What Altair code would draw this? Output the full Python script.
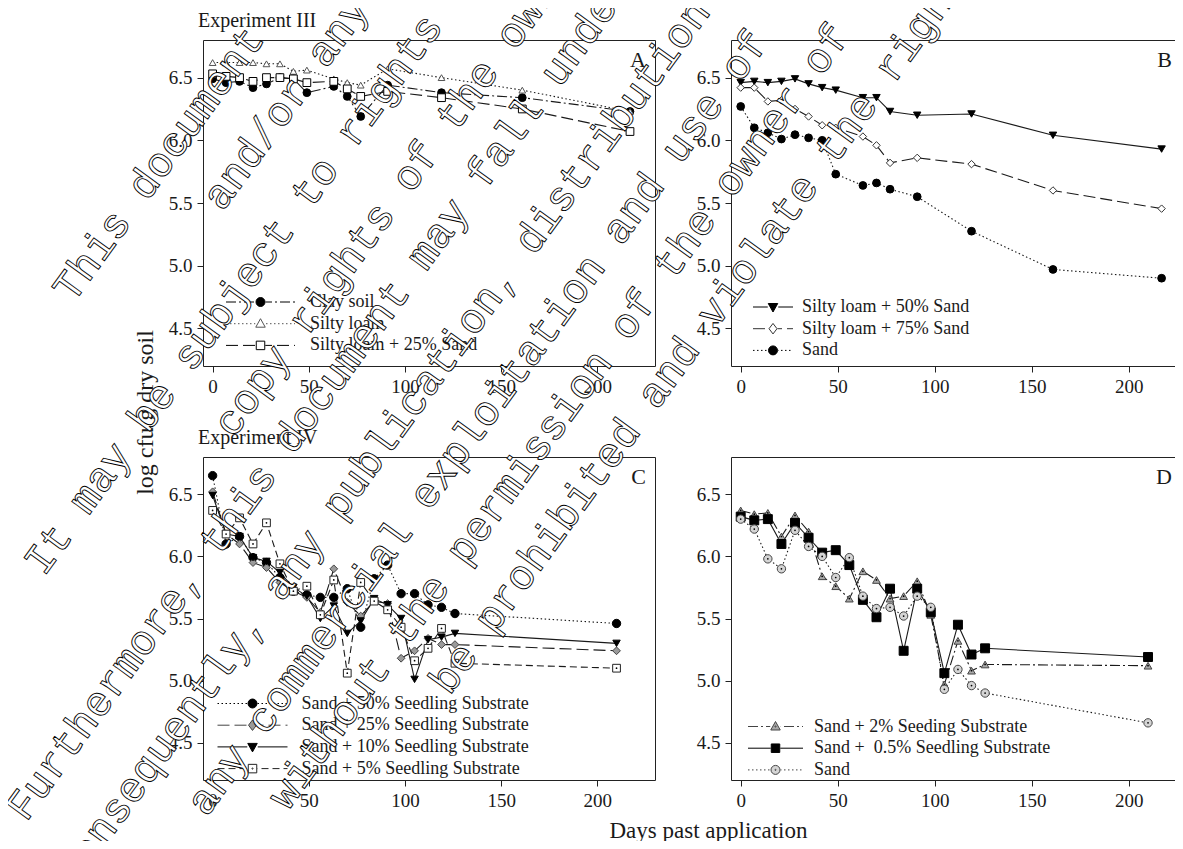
import altair as alt
import pandas as pd

FONT = "Liberation Serif"
MONO = "Liberation Mono"

# ------------------------------------------------------------------ data
DAYS_AB = [0, 7, 14, 21, 28, 35, 42, 49, 63, 70, 77, 91, 119, 161, 217]
CLAY_SOIL = [6.49, 6.46, 6.47, 6.42, 6.45, 6.50, 6.49, 6.38, 6.43, 6.35, 6.19, 6.44, 6.38, 6.34, 6.23]
SILTY_LOAM = [6.62, 6.62, 6.62, 6.62, 6.61, 6.61, 6.55, 6.56, 6.49, 6.46, 6.44, 6.57, 6.50, 6.40, 6.23]
SILTY_LOAM_25 = [6.53, 6.51, 6.50, 6.47, 6.50, 6.50, 6.49, 6.46, 6.47, 6.41, 6.35, 6.39, 6.34, 6.25, 6.07]

SILTY_LOAM_50 = [6.46, 6.47, 6.46, 6.47, 6.49, 6.45, 6.42, 6.40, 6.34, 6.34, 6.23, 6.20, 6.21, 6.04, 5.93]
SILTY_LOAM_75 = [6.42, 6.42, 6.31, 6.32, 6.25, 6.19, 6.12, 6.10, 6.03, 5.96, 5.82, 5.86, 5.81, 5.60, 5.455]
SAND_B = [6.27, 6.10, 6.06, 6.01, 6.045, 6.02, 6.00, 5.73, 5.64, 5.66, 5.61, 5.55, 5.275, 4.97, 4.90]

DAYS_CD = [0, 7, 14, 21, 28, 35, 42, 49, 56, 63, 70, 77, 84, 91, 98, 105, 112, 119, 126, 210]
SUB_50 = [6.65, 6.10, 6.16, 5.99, 5.95, 5.83, 5.72, 5.69, 5.67, 5.67, 5.74, 5.43, 5.82, 5.93, 5.70, 5.70, 5.61, 5.59, 5.54, 5.46]
SUB_25 = [6.52, 6.18, 6.10, 5.95, 5.91, 5.79, 5.72, 5.67, 5.55, 5.90, 5.63, 5.52, 5.64, 5.62, 5.18, 5.24, 5.34, 5.29, 5.29, 5.24]
SUB_10 = [6.49, 6.18, 6.16, 5.99, 5.96, 5.87, 5.75, 5.68, 5.50, 5.60, 5.38, 5.48, 5.66, 5.61, 5.50, 5.01, 5.33, 5.35, 5.38, 5.30]
SUB_5 = [6.37, 6.18, 6.31, 6.10, 6.27, 5.94, 5.72, 5.76, 5.53, 5.81, 5.06, 5.79, 5.64, 5.57, 5.43, 5.16, 5.26, 5.42, 5.14, 5.10]

SUB_2 = [6.37, 6.34, 6.35, 6.16, 6.33, 6.20, 5.84, 5.76, 5.66, 5.88, 5.81, 5.66, 5.68, 5.80, 5.53, 4.97, 5.32, 5.08, 5.13, 5.12]
SUB_05 = [6.32, 6.29, 6.30, 6.10, 6.27, 6.15, 6.03, 6.05, 5.93, 5.65, 5.51, 5.74, 5.24, 5.74, 5.55, 5.06, 5.45, 5.21, 5.26, 5.19]
SAND_D = [6.30, 6.22, 5.98, 5.90, 6.21, 6.08, 6.00, 5.83, 5.99, 5.68, 5.58, 5.59, 5.52, 5.68, 5.59, 4.93, 5.09, 4.96, 4.90, 4.66]

A_NAMES = ["Clay soil", "Silty loam", "Silty loam + 25% Sand"]
B_NAMES = ["Silty loam + 50% Sand", "Silty loam + 75% Sand", "Sand"]
C_NAMES = ["Sand + 50% Seedling Substrate", "Sand + 25% Seedling Substrate",
           "Sand + 10% Seedling Substrate", "Sand + 5% Seedling Substrate"]
D_NAMES = ["Sand + 2% Seeding Substrate", "Sand +\u00a0 0.5% Seedling Substrate", "Sand"]

X_TICKS = [0, 50, 100, 150, 200]
Y_TICKS = [4.5, 5.0, 5.5, 6.0, 6.5]

WATERMARK_LINES = [
    "This document",
    "and/or any",
    "It may be subject to rights",
    "copy rights of the owner",
    "Furthermore, this document may fall under",
    "consequently, any publication, distribution",
    "any commercial exploitation and use of",
    "without the permission of the owner of",
    "be prohibited and violate the rights",
]

# ------------------------------------------------------------------ layout / style
WM_START = [(62.6, 296.5), (212.1, 204.9), (33.6, 569.7), (222.9, 431.6), (15.8, 815.2),
            (64.2, 881.0), (196.2, 810.3), (277.5, 803.8), (439.0, 688.8)]

DASHDOT = [10, 3, 2, 3]
DOTTED = [1.5, 2.5]
LONG = [12, 5]
MED = [7, 4]
SOLID = None

INK = "#1a1a1a"
PX = 5.0  # legend symbol unit (sqrt(symbolSize)/2)


def marker_path(marker, c):
    if marker == "circle":
        r = 0.9
        return f"M{c-r:.3f},0A{r},{r} 0 1,1 {c+r:.3f},0A{r},{r} 0 1,1 {c-r:.3f},0Z"
    if marker == "square":
        h = 0.85
        return f"M{c-h:.3f},{-h}L{c+h:.3f},{-h}L{c+h:.3f},{h}L{c-h:.3f},{h}Z"
    if marker == "triangle-up":
        return f"M{c:.3f},-1L{c+0.95:.3f},0.7L{c-0.95:.3f},0.7Z"
    if marker == "triangle-down":
        return f"M{c:.3f},1L{c+0.95:.3f},-0.7L{c-0.95:.3f},-0.7Z"
    if marker == "diamond":
        return f"M{c:.3f},-1.05L{c+0.8:.3f},0L{c:.3f},1.05L{c-0.8:.3f},0Z"
    return ""


HALF = {"circle": 0.9, "square": 0.85, "triangle-up": 0.95, "triangle-down": 0.95, "diamond": 0.8}


def legend_symbol(total_px, marker, dash_px, dot):
    L = total_px / PX
    x0, x1 = -1.0, -1.0 + L
    c = (x0 + x1) / 2
    hw = HALF[marker] + 0.1
    segs = []
    if dash_px is None:
        segs.append((x0, x1))
    else:
        pat = [d / PX for d in dash_px]
        x, i = x0, 0
        while x < x1 - 1e-9:
            step = pat[i % len(pat)]
            if i % 2 == 0:
                segs.append((x, min(x + step, x1)))
            x += step
            i += 1
    parts = []
    for a, b in segs:
        for lo, hi in ((a, min(b, c - hw)), (max(a, c + hw), b)):
            if hi - lo > 1e-6:
                parts.append(f"M{lo:.3f},0L{hi:.3f},0")
    path = "".join(parts) + marker_path(marker, c)
    if dot:
        r = 0.12
        path += f"M{c-r:.3f},0A{r},{r} 0 1,1 {c+r:.3f},0A{r},{r} 0 1,1 {c-r:.3f},0Z"
    return path


def build_panel(days, series, names, styles, width, height, xdom, letter, leg,
                title=None, ytitle=None, xtitle=None, extra=None):
    rows = []
    for name, vals in zip(names, series):
        for d, v in zip(days, vals):
            rows.append({"day": d, "value": v, "series": name})
    df = pd.DataFrame(rows)
    base = alt.Chart(df)

    xaxis = dict(values=X_TICKS, labelPadding=5, title=None)
    if xtitle:
        xaxis.update(titleFontSize=23, titleX=xtitle[1], titleY=xtitle[2],
                     titleAlign="center", titleBaseline="alphabetic")
        xaxis["title"] = xtitle[0]
    yaxis = dict(values=Y_TICKS, format=".1f", labelPadding=5, title=None)
    if ytitle:
        yaxis.update(titleFontSize=24, titleAngle=270, titleX=ytitle[1], titleY=ytitle[2],
                     titleAlign="center", titleBaseline="bottom")
        yaxis["title"] = ytitle[0]

    X = alt.X("day:Q", scale=alt.Scale(domain=xdom, nice=False, zero=False), axis=alt.Axis(**xaxis))
    Y = alt.Y("value:Q", scale=alt.Scale(domain=[4.2, 6.8], nice=False, zero=False), axis=alt.Axis(**yaxis))

    layers = []
    for name, s in zip(names, styles):
        kw = dict(color=INK, strokeWidth=1.1)
        if s["dash"] is not None:
            kw["strokeDash"] = s["dash"]
        layers.append(base.transform_filter(alt.datum.series == name).mark_line(**kw).encode(x=X, y=Y))
    for name, s in zip(names, styles):
        sub = base.transform_filter(alt.datum.series == name)
        layers.append(sub.mark_point(shape=s["shape"], filled=True, fill=s["fill"], stroke=s["stroke"],
                                     strokeWidth=1, size=s["size"], opacity=1).encode(x=X, y=Y))
        if s["dot"]:
            layers.append(sub.mark_point(shape="circle", filled=True, fill="black", size=3,
                                         opacity=1).encode(x=X, y=Y))

    paths = [legend_symbol(leg["len"], s["shape"], s["dash"], s["dot"]) for s in styles]
    fills = [s["fill"] for s in styles]
    strokes = [s["stroke"] for s in styles]
    legend = alt.Legend(title=None, orient="none", legendX=leg["x"], legendY=leg["y"], direction="vertical",
                        labelFont=FONT, labelFontSize=18, labelColor=INK, labelLimit=500,
                        labelOffset=leg["off"], symbolSize=100, symbolStrokeWidth=1,
                        rowPadding=3.7, padding=0, symbolOpacity=1)
    layers.append(base.transform_filter("datum.value < 0").mark_point(
        filled=True, strokeWidth=1, opacity=1).encode(
        shape=alt.Shape("series:N", scale=alt.Scale(domain=names, range=paths), legend=legend),
        fill=alt.Fill("series:N", scale=alt.Scale(domain=names, range=fills), legend=legend),
        stroke=alt.Stroke("series:N", scale=alt.Scale(domain=names, range=strokes), legend=legend)))

    layers.append(alt.Chart(pd.DataFrame({"t": [letter]})).mark_text(
        align="right", baseline="alphabetic", font=FONT, fontSize=22, color=INK).encode(
        text="t:N", x=alt.value(width - 9), y=alt.value(27)))

    if extra:
        layers.extend(extra)

    props = dict(width=width, height=height)
    if title:
        props["title"] = alt.TitleParams(text=title, anchor="start", frame="group", font=FONT, fontSize=20,
                                         fontWeight="normal", color=INK, offset=9, dx=-5)
    return alt.layer(*layers).properties(**props)


def st(shape, fill, stroke, size, dash, dot=False):
    return dict(shape=shape, fill=fill, stroke=stroke, size=size, dash=dash, dot=dot)


A_STY = [st("circle", "black", "black", 60, DASHDOT),
         st("triangle-up", "white", "#555555", 45, DOTTED),
         st("square", "white", "black", 60, LONG)]
B_STY = [st("triangle-down", "black", "black", 55, SOLID),
         st("diamond", "white", "#333333", 55, LONG),
         st("circle", "black", "black", 60, DOTTED)]
C_STY = [st("circle", "black", "black", 70, DOTTED),
         st("diamond", "#9a9a9a", "#444444", 60, LONG),
         st("triangle-down", "black", "black", 55, SOLID),
         st("square", "white", "#222222", 60, MED, True)]
D_STY = [st("triangle-up", "#a8a8a8", "#444444", 60, DASHDOT, True),
         st("square", "black", "black", 80, SOLID),
         st("circle", "#d4d4d4", "#444444", 70, DOTTED, True)]

# watermark layers (pixel positions relative to panel D origin at 731,457)
D_ORIGIN = (731, 457)
wm_layers = []
for text, (sx, sy) in zip(WATERMARK_LINES, WM_START):
    wm_layers.append(alt.Chart(pd.DataFrame({"t": [text]})).mark_text(
        align="left", baseline="middle", angle=306, font=MONO, fontSize=42,
        fill="white", stroke="black", strokeWidth=0.9).encode(
        text="t:N", x=alt.value(sx - D_ORIGIN[0]), y=alt.value(sy - D_ORIGIN[1])))

A = build_panel(DAYS_AB, [CLAY_SOIL, SILTY_LOAM, SILTY_LOAM_25], A_NAMES, A_STY, 452, 326, [-5, 230], "A",
                dict(x=19, y=253, len=69, off=70), title="Experiment III",
                ytitle=("log cfu/g dry soil", -46, 372))
B = build_panel(DAYS_AB, [SILTY_LOAM_50, SILTY_LOAM_75, SAND_B], B_NAMES, B_STY, 450, 326, [-5, 227], "B",
                dict(x=18, y=258, len=40, off=35))
C = build_panel(DAYS_CD, [SUB_50, SUB_25, SUB_10, SUB_5], C_NAMES, C_STY, 452, 323, [-5, 230], "C",
                dict(x=10.5, y=237.5, len=70, off=70), title="Experiment IV")
D = build_panel(DAYS_CD, [SUB_2, SUB_05, SAND_D], D_NAMES, D_STY, 450, 323, [-5, 227], "D",
                dict(x=13, y=260.5, len=55, off=52),
                xtitle=("Days past application", -23, 57), extra=wm_layers)

chart = alt.concat(A, B, C, D, columns=2, spacing={"row": 91, "column": 76}, bounds="flush").resolve_scale(
    shape="independent", fill="independent", stroke="independent"
).resolve_legend(
    shape="independent", fill="independent", stroke="independent"
).properties(
    autosize=alt.AutoSizeParams(type="none"),
    padding={"left": 195, "top": 32, "right": 972, "bottom": 801},
).configure(background="white").configure_view(
    stroke="#222222", strokeWidth=1
).configure_axis(
    labelFont=FONT, labelFontSize=19, labelColor=INK, titleFont=FONT, titleColor=INK,
    titleFontWeight="normal", tickSize=6, tickColor="#222222", domain=False, grid=False
)

chart.save("out.html", embed_options={"renderer": "svg", "actions": False})
